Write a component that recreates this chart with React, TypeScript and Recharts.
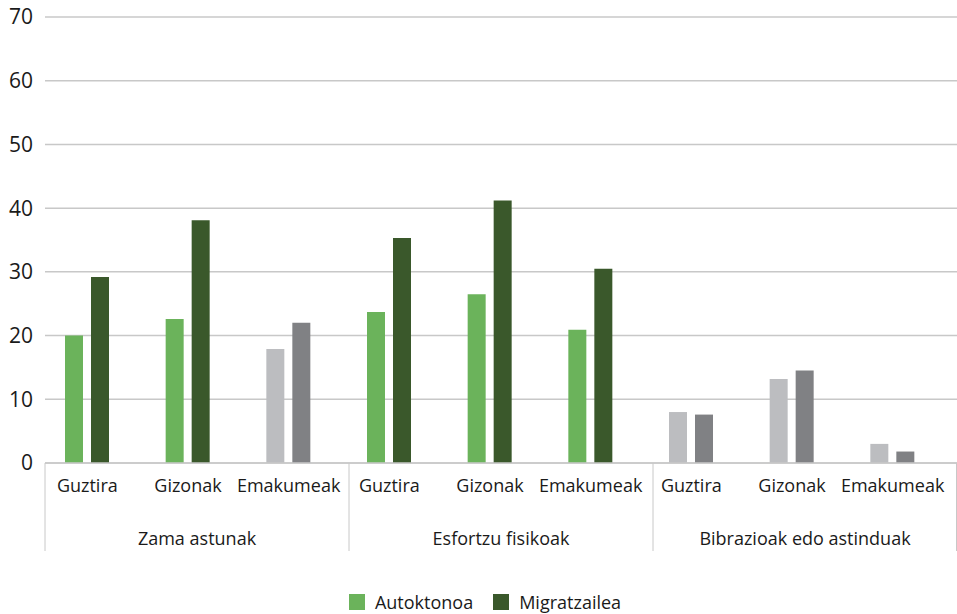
import { BarChart, Bar, XAxis, YAxis, CartesianGrid, Legend, Cell } from 'recharts';

const groups = ['Zama astunak', 'Esfortzu fisikoak', 'Bibrazioak edo astinduak'];
const categories = [
  'Guztira', 'Gizonak', 'Emakumeak',
  'Guztira', 'Gizonak', 'Emakumeak',
  'Guztira', 'Gizonak', 'Emakumeak',
];
const autoktonoa = [20.0, 22.6, 17.9, 23.7, 26.5, 20.9, 8.0, 13.2, 3.0];
const migratzailea = [29.2, 38.1, 22.0, 35.3, 41.2, 30.5, 7.6, 14.5, 1.8];
// grey bars in the original (shown in grey tones)
const greyed = [false, false, true, false, false, false, true, true, true];
const yTicks = [0, 10, 20, 30, 40, 50, 60, 70];

const GREEN_LIGHT = '#6bb35b';
const GREEN_DARK = '#3a582b';
const GREY_LIGHT = '#bcbdc0';
const GREY_DARK = '#808184';
const LINE = '#c8c8c8';
const TEXT = '#1a1a1a';
const FONT = '"Open Sans", sans-serif';

const data = categories.map((c, i) => ({
  key: String(i),
  label: c,
  autoktonoa: autoktonoa[i],
  migratzailea: migratzailea[i],
  grey: greyed[i],
}));

const GroupTick = (props: any) => {
  const { x, y, payload } = props;
  const v = payload.value;
  if (Number.isInteger(v)) {
    const lx = Math.min(x, 956.5);
    return <line x1={lx} x2={lx} y1={y - 45} y2={y + 43} stroke={LINE} strokeWidth={1} />;
  }
  return (
    <text x={x} y={y + 37} textAnchor="middle" fill={TEXT} fontSize={18} fontFamily={FONT}>
      {groups[Math.floor(v)]}
    </text>
  );
};

const LegendContent = () => (
  <div
    style={{
      height: 62,
      display: 'flex',
      alignItems: 'flex-end',
      justifyContent: 'center',
      paddingLeft: 13,
      fontFamily: FONT,
      fontSize: 18,
      color: TEXT,
      boxSizing: 'border-box',
    }}
  >
    <span style={{ display: 'flex', alignItems: 'center', marginRight: 20 }}>
      <span style={{ width: 16, height: 16, background: GREEN_LIGHT, marginRight: 10, display: 'inline-block' }} />
      Autoktonoa
    </span>
    <span style={{ display: 'flex', alignItems: 'center' }}>
      <span style={{ width: 16, height: 16, background: GREEN_DARK, marginRight: 10, display: 'inline-block' }} />
      Migratzailea
    </span>
  </div>
);

export default function App() {
  return (
    <div style={{ position: 'absolute', left: 0, top: 0, background: '#fff' }}>
      <BarChart
        width={957}
        height={614}
        data={data}
        margin={{ top: 17, right: 0, left: 0, bottom: 0 }}
        barSize={18}
        barGap={8}
      >
        <CartesianGrid vertical={false} stroke={LINE} strokeWidth={1.5} xAxisId="bars" />
        <YAxis
          domain={[0, 70]}
          ticks={yTicks}
          width={45}
          axisLine={false}
          tickLine={false}
          tickSize={0}
          tickMargin={12}
          tick={{ fill: TEXT, fontSize: 21, fontFamily: FONT }}
        />
        <XAxis
          xAxisId="bars"
          dataKey="key"
          height={45}
          padding={{ left: -8, right: 14 }}
          axisLine={{ stroke: LINE, strokeWidth: 1.5 }}
          tickLine={false}
          tickSize={0}
          tickMargin={16}
          interval={0}
          tickFormatter={(k: string) => categories[Number(k)]}
          tick={{ fill: TEXT, fontSize: 18, fontFamily: FONT }}
        />
        <XAxis
          xAxisId="grp"
          type="number"
          dataKey="gx"
          domain={[0, 3]}
          allowDataOverflow
          ticks={[0, 0.5, 1, 1.5, 2, 2.5, 3]}
          interval={0}
          height={44}
          axisLine={false}
          tickLine={false}
          tickSize={0}
          tickMargin={0}
          tick={<GroupTick />}
        />
        <Legend verticalAlign="bottom" content={<LegendContent />} />
        <Bar xAxisId="bars" dataKey="autoktonoa" name="Autoktonoa" fill={GREEN_LIGHT} isAnimationActive={false}>
          {data.map((d, i) => (
            <Cell key={`a-${i}`} fill={d.grey ? GREY_LIGHT : GREEN_LIGHT} />
          ))}
        </Bar>
        <Bar xAxisId="bars" dataKey="migratzailea" name="Migratzailea" fill={GREEN_DARK} isAnimationActive={false}>
          {data.map((d, i) => (
            <Cell key={`m-${i}`} fill={d.grey ? GREY_DARK : GREEN_DARK} />
          ))}
        </Bar>
      </BarChart>
    </div>
  );
}
